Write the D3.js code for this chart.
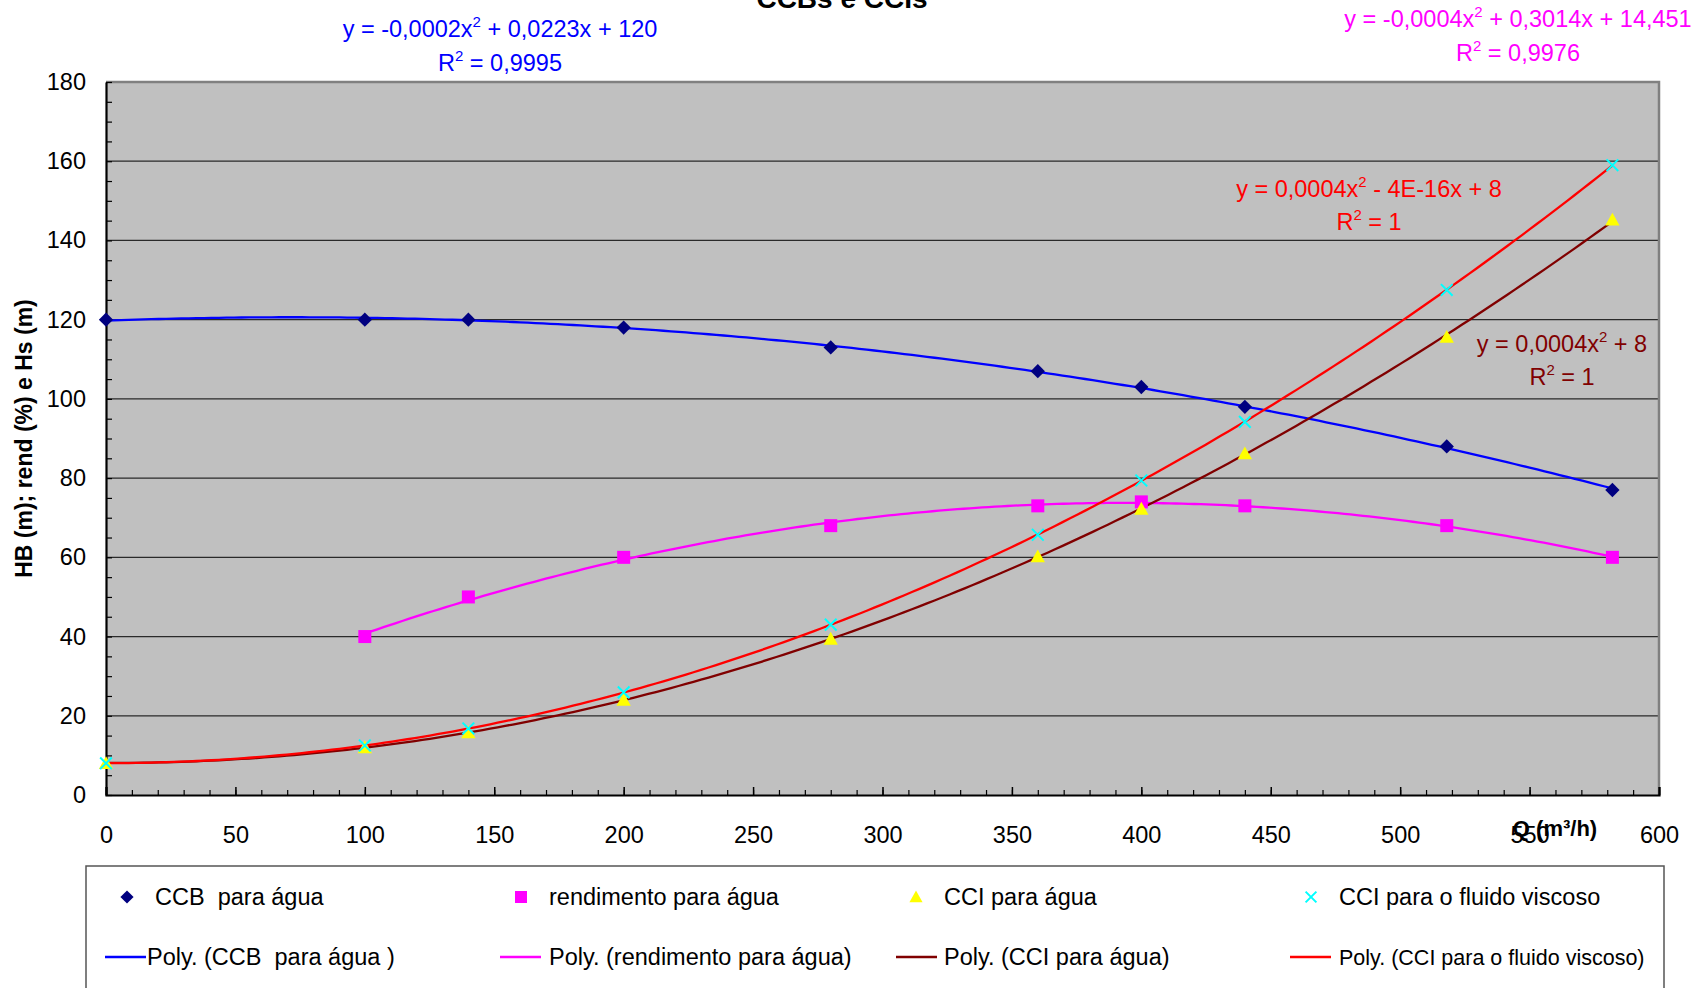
<!DOCTYPE html>
<html>
<head>
<meta charset="utf-8">
<script src="https://cdn.jsdelivr.net/npm/d3@7"></script>
<style>
  html, body { margin: 0; padding: 0; background: #fff; }
  svg { display: block; font-family: "Liberation Sans", Arial, sans-serif; }
  svg text { white-space: pre; }
</style>
</head>
<body>
<svg id="chart" width="1696" height="988"></svg>
<script>
// Vazão Q (m³/h) dos pontos medidos
const qAgua = [0, 100, 140, 200, 280, 360, 400, 440, 518, 582];
const qRend = [100, 140, 200, 280, 360, 400, 440, 518, 582];

// Séries
const ccbAgua = [120, 120, 120, 118, 113, 107, 103, 98, 88, 77];
const rendAgua = [40, 50, 60, 68, 73, 74, 73, 68, 60];
const cciAgua = [8, 12, 15.8, 24, 39.4, 60.2, 72.2, 86.2, 115.6, 145.2];
const cciViscoso = [8, 12.5, 16.8, 25.9, 43, 65.7, 79.4, 94.2, 127.5, 159];

// Eixos
const xTicks = [0, 50, 100, 150, 200, 250, 300, 350, 400, 450, 500, 550, 600];
const yTicks = [0, 20, 40, 60, 80, 100, 120, 140, 160, 180];

// Legenda
const legendMarkers = ["CCB  para água", "rendimento para água", "CCI para água", "CCI para o fluido viscoso"];
const legendLines = ["Poly. (CCB  para água )", "Poly. (rendimento para água)", "Poly. (CCI para água)", "Poly. (CCI para o fluido viscoso)"];

// Equações das linhas de tendência
const eqTexts = [
  ["y = -0,0002x", "2", " + 0,0223x + 120"],
  ["y = -0,0004x", "2", " + 0,3014x + 14,451"],
  ["y = 0,0004x", "2", " - 4E-16x + 8"],
  ["y = 0,0004x", "2", " + 8"]
];
const r2Texts = ["0,9995", "0,9976", "1", "1"];

const svg = d3.select("#chart");
const plot = { left: 106, right: 1659, top: 82, bottom: 795 };

const x = d3.scaleLinear().domain([0, 600]).range([plot.left, plot.right]);
const y = d3.scaleLinear().domain([0, 180]).range([plot.bottom, plot.top]);

const FONT = 23.5;

// Fundo da área de plotagem
svg.append("rect")
  .attr("x", plot.left).attr("y", plot.top)
  .attr("width", plot.right - plot.left).attr("height", plot.bottom - plot.top)
  .attr("fill", "#c0c0c0");

// Linhas de grade
svg.append("g").selectAll("line")
  .data(yTicks.filter(v => v > 0 && v < 180))
  .join("line")
  .attr("x1", plot.left).attr("x2", plot.right)
  .attr("y1", d => y(d)).attr("y2", d => y(d))
  .attr("stroke", "#2a2a2a").attr("stroke-width", 1.2);

// Borda superior e direita
svg.append("path")
  .attr("d", `M${plot.left},${plot.top}H${plot.right}V${plot.bottom}`)
  .attr("fill", "none").attr("stroke", "#808080").attr("stroke-width", 2.5);

// Marcas menores
const xMinor = d3.range(0, 601, 10);
const yMinor = d3.range(0, 181, 5);

svg.append("g")
  .attr("transform", `translate(0,${plot.bottom})`)
  .call(d3.axisBottom(x).tickValues(xMinor).tickSize(-5).tickFormat(""))
  .call(g => g.select(".domain").remove())
  .call(g => g.selectAll("line").attr("stroke", "#000").attr("stroke-width", 1.2));

svg.append("g")
  .attr("transform", `translate(${plot.left},0)`)
  .call(d3.axisLeft(y).tickValues(yMinor).tickSize(-6).tickFormat(""))
  .call(g => g.select(".domain").remove())
  .call(g => g.selectAll("line").attr("stroke", "#000").attr("stroke-width", 1.2));

// Eixo X
const xAxis = svg.append("g")
  .attr("transform", `translate(0,${plot.bottom})`)
  .call(d3.axisBottom(x).tickValues(xTicks).tickSize(-8).tickPadding(31).tickFormat(d3.format("d")));
xAxis.select(".domain").attr("stroke", "#000").attr("stroke-width", 2.2);
xAxis.selectAll("line").attr("stroke", "#000").attr("stroke-width", 1.5);
xAxis.selectAll("text")
  .attr("font-size", FONT).attr("fill", "#000")
  .attr("font-family", "Liberation Sans, Arial, sans-serif");

// Eixo Y
const yAxis = svg.append("g")
  .attr("transform", `translate(${plot.left},0)`)
  .call(d3.axisLeft(y).tickValues(yTicks).tickSize(0).tickPadding(20).tickFormat(d3.format("d")));
yAxis.select(".domain").attr("stroke", "#000").attr("stroke-width", 2.2);
yAxis.selectAll("text")
  .attr("font-size", FONT).attr("fill", "#000")
  .attr("font-family", "Liberation Sans, Arial, sans-serif");

// Títulos
svg.append("text")
  .attr("x", 842).attr("y", 8)
  .attr("text-anchor", "middle")
  .attr("font-size", 28).attr("font-weight", "bold")
  .text("CCBs e CCIs");

svg.append("text")
  .attr("transform", `translate(32,${(plot.top + plot.bottom) / 2}) rotate(-90)`)
  .attr("text-anchor", "middle")
  .attr("font-size", 23).attr("font-weight", "bold")
  .text("HB (m); rend (%) e Hs (m)");

svg.append("text")
  .attr("x", 1555).attr("y", 836)
  .attr("text-anchor", "middle")
  .attr("font-size", 22).attr("font-weight", "bold")
  .text("Q (m³/h)");

// Ajuste polinomial de 2º grau (mínimos quadrados)
function polyFit2(xs, ys) {
  const n = xs.length;
  let s = [0, 0, 0, 0, 0], t = [0, 0, 0];
  for (let i = 0; i < n; i++) {
    let p = 1;
    for (let k = 0; k < 5; k++) { s[k] += p; if (k < 3) t[k] += p * ys[i]; p *= xs[i]; }
  }
  const A = [[s[0], s[1], s[2], t[0]], [s[1], s[2], s[3], t[1]], [s[2], s[3], s[4], t[2]]];
  for (let c = 0; c < 3; c++) {
    for (let r = c + 1; r < 3; r++) {
      const f = A[r][c] / A[c][c];
      for (let k = c; k < 4; k++) A[r][k] -= f * A[c][k];
    }
  }
  const coef = [0, 0, 0];
  for (let r = 2; r >= 0; r--) {
    let v = A[r][3];
    for (let k = r + 1; k < 3; k++) v -= A[r][k] * coef[k];
    coef[r] = v / A[r][r];
  }
  return q => coef[0] + coef[1] * q + coef[2] * q * q;
}

const series = [
  { xs: qAgua, ys: ccbAgua, marker: "diamond", mcolor: "#000080", lcolor: "#0000ff" },
  { xs: qRend, ys: rendAgua, marker: "square", mcolor: "#ff00ff", lcolor: "#ff00ff" },
  { xs: qAgua, ys: cciAgua, marker: "triangle", mcolor: "#ffff00", lcolor: "#800000" },
  { xs: qAgua, ys: cciViscoso, marker: "cross", mcolor: "#00ffff", lcolor: "#ff0000" }
];

const line = d3.line().x(d => x(d[0])).y(d => y(d[1]));

// Linhas de tendência
series.forEach(s => {
  const f = polyFit2(s.xs, s.ys);
  const lo = d3.min(s.xs), hi = d3.max(s.xs);
  const pts = d3.range(0, 201).map(i => { const q = lo + (hi - lo) * i / 200; return [q, f(q)]; });
  svg.append("path").datum(pts)
    .attr("d", line)
    .attr("fill", "none").attr("stroke", s.lcolor).attr("stroke-width", 2.3);
});

// Marcadores
function drawMarker(g, type, color, cx, cy, size) {
  if (type === "diamond") {
    const r = size * 0.55;
    g.append("path").attr("d", `M${cx},${cy - r}L${cx + r},${cy}L${cx},${cy + r}L${cx - r},${cy}Z`).attr("fill", color);
  } else if (type === "square") {
    const r = size * 0.5;
    g.append("rect").attr("x", cx - r).attr("y", cy - r).attr("width", 2 * r).attr("height", 2 * r).attr("fill", color);
  } else if (type === "triangle") {
    const r = size * 0.55;
    g.append("path").attr("d", `M${cx},${cy - r}L${cx + r},${cy + r * 0.8}L${cx - r},${cy + r * 0.8}Z`).attr("fill", color);
  } else {
    const r = size * 0.45;
    g.append("path").attr("d", `M${cx - r},${cy - r}L${cx + r},${cy + r}M${cx + r},${cy - r}L${cx - r},${cy + r}`)
      .attr("stroke", color).attr("stroke-width", 2).attr("fill", "none");
  }
}

series.forEach(s => {
  const g = svg.append("g");
  s.xs.forEach((q, i) => drawMarker(g, s.marker, s.mcolor, x(q), y(s.ys[i]), 13));
});

// Equações e R²
const eqPos = [
  { cx: 500, y1: 37, y2: 71, color: "#0000ff" },
  { cx: 1518, y1: 27, y2: 61, color: "#ff00ff" },
  { cx: 1369, y1: 197, y2: 230, color: "#ff0000" },
  { cx: 1562, y1: 352, y2: 385, color: "#800000" }
];
eqPos.forEach((p, i) => {
  const t = svg.append("text").attr("x", p.cx).attr("y", p.y1)
    .attr("text-anchor", "middle").attr("font-size", FONT).attr("fill", p.color);
  t.append("tspan").text(eqTexts[i][0]);
  t.append("tspan").attr("font-size", 15).attr("dy", -10).text(eqTexts[i][1]);
  t.append("tspan").attr("dy", 10).text(eqTexts[i][2]);
  const r = svg.append("text").attr("x", p.cx).attr("y", p.y2)
    .attr("text-anchor", "middle").attr("font-size", FONT).attr("fill", p.color);
  r.append("tspan").text("R");
  r.append("tspan").attr("font-size", 15).attr("dy", -10).text("2");
  r.append("tspan").attr("dy", 10).text(" = " + r2Texts[i]);
});

// Legenda
svg.append("rect")
  .attr("x", 86).attr("y", 866).attr("width", 1578).attr("height", 140)
  .attr("fill", "#fff").attr("stroke", "#555").attr("stroke-width", 1.5);

const colMarkerX = [127, 521, 916, 1311];
const colTextX = [155, 549, 944, 1339];
const colLineX = [[105, 146], [500, 541], [896, 937], [1290, 1331]];
const row1 = 897, row2 = 957;

series.forEach((s, i) => {
  const g = svg.append("g");
  drawMarker(g, s.marker, s.mcolor, colMarkerX[i], row1, 12);
  svg.append("text").attr("x", colTextX[i]).attr("y", row1).attr("dy", "0.35em")
    .attr("font-size", FONT).text(legendMarkers[i]);
  svg.append("line")
    .attr("x1", colLineX[i][0]).attr("x2", colLineX[i][1])
    .attr("y1", row2).attr("y2", row2)
    .attr("stroke", s.lcolor).attr("stroke-width", 2.3);
  svg.append("text").attr("x", i === 0 ? 147 : colTextX[i]).attr("y", row2).attr("dy", "0.35em")
    .attr("font-size", i === 3 ? 21.5 : FONT).text(legendLines[i]);
});
</script>
</body>
</html>
